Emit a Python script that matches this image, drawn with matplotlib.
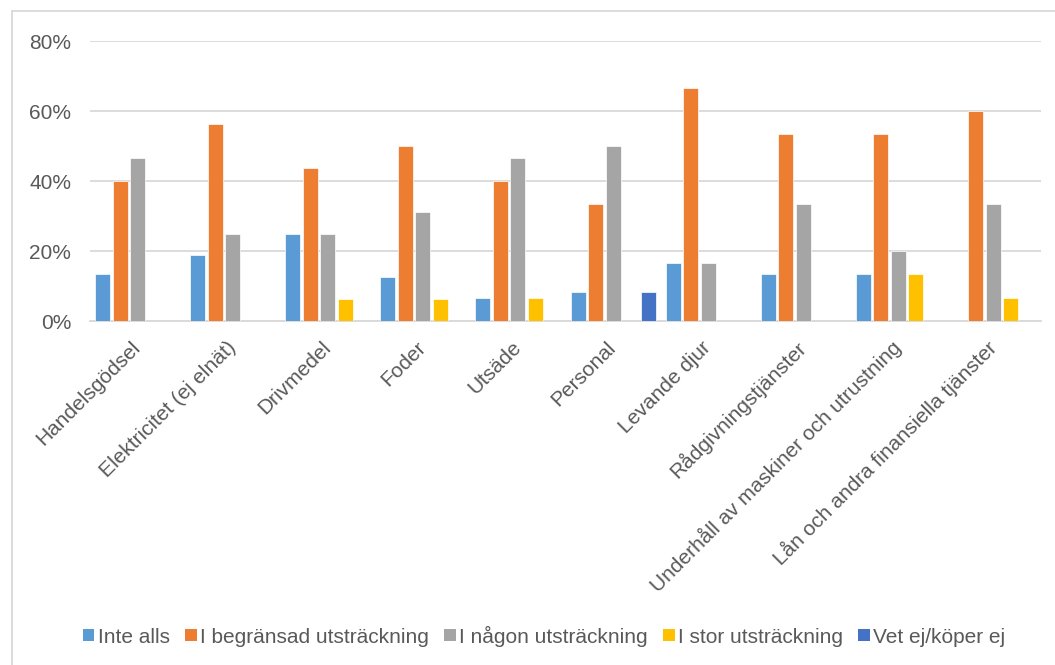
import numpy as np
import matplotlib.pyplot as plt
from matplotlib.lines import Line2D
from matplotlib.patches import Patch

plt.rcParams['font.family'] = ['Liberation Sans', 'DejaVu Sans']

kategorier = ['Handelsgödsel', 'Elektricitet (ej elnät)', 'Drivmedel', 'Foder', 'Utsäde',
              'Personal', 'Levande djur', 'Rådgivningstjänster',
              'Underhåll av maskiner och utrustning', 'Lån och andra finansiella tjänster']

# andel svar i procent per kategori
inte_alls = [13.3, 18.75, 25.0, 12.5, 6.67, 8.33, 16.67, 13.3, 13.3, 0]
begransad = [40.0, 56.25, 43.75, 50.0, 40.0, 33.3, 66.67, 53.3, 53.3, 60.0]
nagon = [46.67, 25.0, 25.0, 31.25, 46.67, 50.0, 16.67, 33.3, 20.0, 33.3]
stor = [0, 0, 6.25, 6.25, 6.67, 0, 0, 0, 13.3, 6.67]
vet_ej = [0, 0, 0, 0, 0, 8.33, 0, 0, 0, 0]

serier = ['Inte alls', 'I begränsad utsträckning', 'I någon utsträckning',
          'I stor utsträckning', 'Vet ej/köper ej']
farger = ['#5B9BD5', '#ED7D31', '#A5A5A5', '#FFC000', '#4472C4']
textfarg = '#595959'
linjefarg = '#D9D9D9'
fs = 15

fig = plt.figure(figsize=(10.55, 6.65), dpi=100)
ax = fig.add_axes([90/1055, 1-321/665, (1041-90)/1055, 280/665])

x = np.arange(len(kategorier))
steg = 0.184
for k, (namn, varden) in enumerate(zip(serier, [inte_alls, begransad, nagon, stor, vet_ej])):
    h = np.array(varden, dtype=float)
    h[h == 0] = np.nan
    ax.bar(x + (k - 2)*steg, h, width=0.158, color=farger[k], edgecolor='white',
           linewidth=0.5, zorder=3, label=namn)

ax.set_xlim(-0.5, len(kategorier) - 0.5)
ax.set_ylim(0, 80)
ax.set_yticks([0, 20, 40, 60, 80])
ax.set_yticklabels([f'{v}%' for v in [0, 20, 40, 60, 80]])
ax.yaxis.grid(True, color=linjefarg, linewidth=1.3, zorder=0)
ax.set_axisbelow(True)
for s in ax.spines.values():
    s.set_visible(False)
ax.axhline(0, color=linjefarg, linewidth=1.3, zorder=2, clip_on=False)

ax.set_xticks(x)
ax.set_xticklabels(kategorier, rotation=45, ha='right', va='center', rotation_mode='anchor')
ax.tick_params(axis='x', length=0, pad=17, labelsize=fs, labelcolor=textfarg)
ax.tick_params(axis='y', length=0, pad=13.5, labelsize=fs, labelcolor=textfarg)

handles = [Patch(facecolor=c, edgecolor='none') for c in farger]
fig.legend(handles, serier, loc='center', bbox_to_anchor=(544/1055, 1-636/665), ncol=5,
           frameon=False, fontsize=fs, labelcolor=textfarg, handlelength=0.55,
           handleheight=0.55, handletextpad=0.15, columnspacing=0.75, borderaxespad=0)

# ram runt diagrammet
fig.add_artist(Line2D([12/1055, 12/1055], [0, 1-11/665], color=linjefarg, linewidth=1.3))
fig.add_artist(Line2D([12/1055, 1], [1-11/665, 1-11/665], color=linjefarg, linewidth=1.3))

fig.savefig('out.png', dpi=100, facecolor='white')
